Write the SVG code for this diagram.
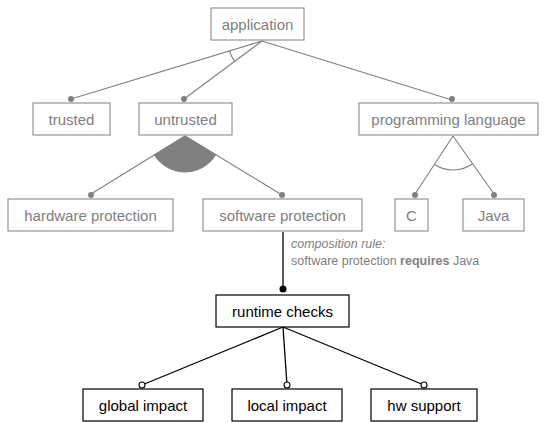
<svg xmlns="http://www.w3.org/2000/svg" width="544" height="423" viewBox="0 0 544 423">
<style>
.g rect{fill:#fff;stroke:#808080;stroke-width:1}
.g text{fill:#808080}
.k rect{fill:#fff;stroke:#000;stroke-width:1.2}
.k text{fill:#000}
text{font-family:"Liberation Sans",Arial,sans-serif;font-size:15px;text-anchor:middle}
.gl{stroke:#808080;stroke-width:1.1;fill:none}
.kl{stroke:#000;stroke-width:1.3;fill:none}
.gd{fill:#808080}
.od{fill:#fff;stroke:#000;stroke-width:1.1}
.note{font-size:12.5px;text-anchor:start;fill:#808080}
</style>
<g id="connectors">
<path class="gl" d="M262,41 L71,99 M262,41 L184,99 M262,41 L452,100"/>
<path class="gl" d="M229.5,50.9 A34,34 0 0,0 234.7,61.3"/>
<path class="gl" d="M185,136 L91,194 M185,136 L282,195"/>
<path d="M185,136 L154.4,154.9 A36,36 0 0,0 215.8,154.7 Z" fill="#808080" stroke="#808080"/>
<path class="gl" d="M453,136 L415,194 M453,136 L494,194"/>
<path class="gl" d="M434.4,164.5 A34,34 0 0,0 472.6,163.8"/>
<circle class="gd" cx="71" cy="99" r="3"/>
<circle class="gd" cx="184" cy="99" r="3"/>
<circle class="gd" cx="452" cy="99" r="3"/>
<circle class="gd" cx="91" cy="195" r="3"/>
<circle class="gd" cx="282" cy="195" r="3"/>
<circle class="gd" cx="415" cy="195" r="3"/>
<circle class="gd" cx="494" cy="195" r="3"/>
<path class="kl" d="M283,232 L283,289"/>
<circle cx="283" cy="289" r="3.5" fill="#000"/>
<path class="kl" d="M283,327 L142,385 M283,327 L287,385 M283,327 L424,385"/>
<circle class="od" cx="142" cy="385" r="3"/>
<circle class="od" cx="287" cy="385" r="3"/>
<circle class="od" cx="424" cy="385" r="3"/>
<text class="note" x="291" y="248" font-style="italic">composition rule:</text>
<text class="note" x="291" y="265">software protection <tspan font-weight="bold">requires</tspan> Java</text>
</g>
<g id="application" class="g"><rect x="211" y="8" width="93" height="32"/><text x="257.5" y="29.5">application</text></g>
<g id="trusted" class="g"><rect x="33" y="103" width="77" height="32"/><text x="71.5" y="124.5">trusted</text></g>
<g id="untrusted" class="g"><rect x="139" y="103" width="93" height="32"/><text x="185.5" y="124.5">untrusted</text></g>
<g id="programming-language" class="g"><rect x="359" y="103" width="179" height="32"/><text x="448.5" y="124.5">programming language</text></g>
<g id="hardware-protection" class="g"><rect x="8" y="199" width="165" height="32"/><text x="90.5" y="220.5">hardware protection</text></g>
<g id="software-protection" class="g"><rect x="203" y="199" width="159" height="32"/><text x="282.5" y="220.5">software protection</text></g>
<g id="c" class="g"><rect x="395" y="199" width="33" height="32"/><text x="411.5" y="220.5">C</text></g>
<g id="java" class="g"><rect x="463" y="199" width="61" height="32"/><text x="493.5" y="220.5">Java</text></g>
<g id="runtime-checks" class="k"><rect x="216" y="295" width="133" height="32"/><text x="282.5" y="316.5">runtime checks</text></g>
<g id="global-impact" class="k"><rect x="83" y="389" width="120" height="32"/><text x="143" y="410.5">global impact</text></g>
<g id="local-impact" class="k"><rect x="232" y="389" width="110" height="32"/><text x="287" y="410.5">local impact</text></g>
<g id="hw-support" class="k"><rect x="371" y="389" width="106" height="32"/><text x="424" y="410.5">hw support</text></g>
</svg>
